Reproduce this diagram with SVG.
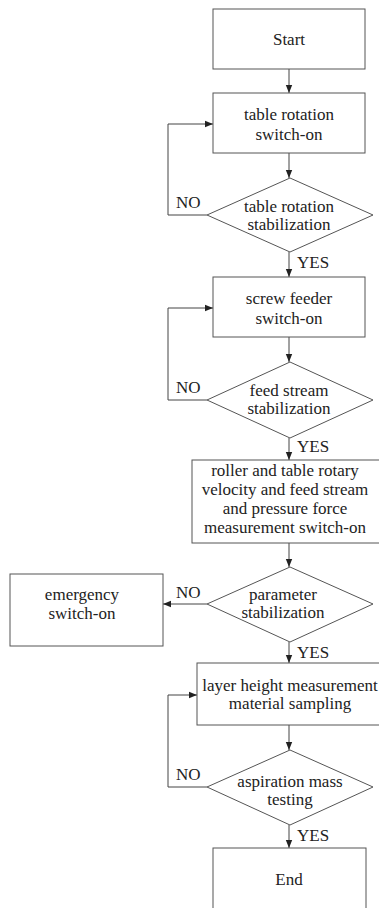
<svg xmlns="http://www.w3.org/2000/svg" width="379" height="908" viewBox="0 0 379 908">
<style>
.box{fill:#fff;stroke:#555;stroke-width:1}
text{font-family:'Liberation Serif','DejaVu Serif','Times New Roman',serif;font-size:17px;fill:#222}
.t{text-anchor:middle}
.c{fill:none;stroke:#444;stroke-width:1}
</style>
<defs>
<marker id="ah" viewBox="0 0 10 10" refX="10" refY="5" markerWidth="8" markerHeight="8" markerUnits="userSpaceOnUse" orient="auto">
<path d="M0,1 L10,5 L0,9 Z" fill="#222"/>
</marker>
</defs>
<rect width="379" height="908" fill="#fff"/>
<g id="connectors">
<line class="c" x1="289" y1="69" x2="289" y2="93" marker-end="url(#ah)"/>
<line class="c" x1="289" y1="153" x2="289" y2="178" marker-end="url(#ah)"/>
<polyline class="c" points="207,215 168,215 168,124 213,124" marker-end="url(#ah)"/>
<line class="c" x1="289" y1="252" x2="289" y2="277" marker-end="url(#ah)"/>
<line class="c" x1="289" y1="337" x2="289" y2="362" marker-end="url(#ah)"/>
<polyline class="c" points="207,400 168,400 168,308 213,308" marker-end="url(#ah)"/>
<line class="c" x1="289" y1="438" x2="289" y2="460" marker-end="url(#ah)"/>
<line class="c" x1="289" y1="543" x2="289" y2="567" marker-end="url(#ah)"/>
<line class="c" x1="207" y1="604" x2="163" y2="604" marker-end="url(#ah)"/>
<line class="c" x1="289" y1="642" x2="289" y2="663" marker-end="url(#ah)"/>
<line class="c" x1="289" y1="725" x2="289" y2="750" marker-end="url(#ah)"/>
<polyline class="c" points="207,787 168,787 168,695 197,695" marker-end="url(#ah)"/>
<line class="c" x1="289" y1="825" x2="289" y2="848" marker-end="url(#ah)"/>
<text font-family="Liberation Serif, serif" x="176" y="208">NO</text>
<text font-family="Liberation Serif, serif" x="297" y="268">YES</text>
<text font-family="Liberation Serif, serif" x="176" y="393">NO</text>
<text font-family="Liberation Serif, serif" x="297" y="452">YES</text>
<text font-family="Liberation Serif, serif" x="176" y="598">NO</text>
<text font-family="Liberation Serif, serif" x="297" y="658">YES</text>
<text font-family="Liberation Serif, serif" x="176" y="780">NO</text>
<text font-family="Liberation Serif, serif" x="297" y="841">YES</text>
</g>
<g id="start">
<rect class="box" x="213" y="9" width="152" height="60"/>
<text class="t" x="289" y="45">Start</text>
</g>
<g id="table-rotation-on">
<rect class="box" x="213" y="93" width="152" height="60"/>
<text class="t" x="289" y="120">table rotation</text>
<text class="t" x="289" y="140">switch-on</text>
</g>
<g id="table-rotation-stab">
<polygon class="box" points="290,178 373,215 290,252 207,215"/>
<text class="t" x="289" y="212">table rotation</text>
<text class="t" x="289" y="230">stabilization</text>
</g>
<g id="screw-feeder-on">
<rect class="box" x="213" y="277" width="152" height="60"/>
<text class="t" x="289" y="304">screw feeder</text>
<text class="t" x="289" y="324">switch-on</text>
</g>
<g id="feed-stream-stab">
<polygon class="box" points="290,362 373,400 290,438 207,400"/>
<text class="t" x="289" y="396">feed stream</text>
<text class="t" x="289" y="414">stabilization</text>
</g>
<g id="measurement-on">
<rect class="box" x="192" y="460" width="192" height="83"/>
<text class="t" x="285" y="476">roller and table rotary</text>
<text class="t" x="285" y="495">velocity and feed stream</text>
<text class="t" x="285" y="514">and pressure force</text>
<text class="t" x="285" y="533">measurement switch-on</text>
</g>
<g id="parameter-stab">
<polygon class="box" points="290,567 373,604 290,642 207,604"/>
<text class="t" x="283" y="600">parameter</text>
<text class="t" x="283" y="618">stabilization</text>
</g>
<g id="emergency">
<rect class="box" x="10" y="574" width="153" height="72"/>
<text class="t" x="82" y="600">emergency</text>
<text class="t" x="82" y="619">switch-on</text>
</g>
<g id="layer-height">
<rect class="box" x="197" y="663" width="187" height="62"/>
<text class="t" x="290" y="691">layer height measurement</text>
<text class="t" x="290" y="709">material sampling</text>
</g>
<g id="aspiration">
<polygon class="box" points="290,750 373,787 290,825 207,787"/>
<text class="t" x="290" y="787">aspiration mass</text>
<text class="t" x="290" y="805">testing</text>
</g>
<g id="end">
<rect class="box" x="213" y="848" width="153" height="70"/>
<text class="t" x="289" y="885">End</text>
</g>
</svg>
